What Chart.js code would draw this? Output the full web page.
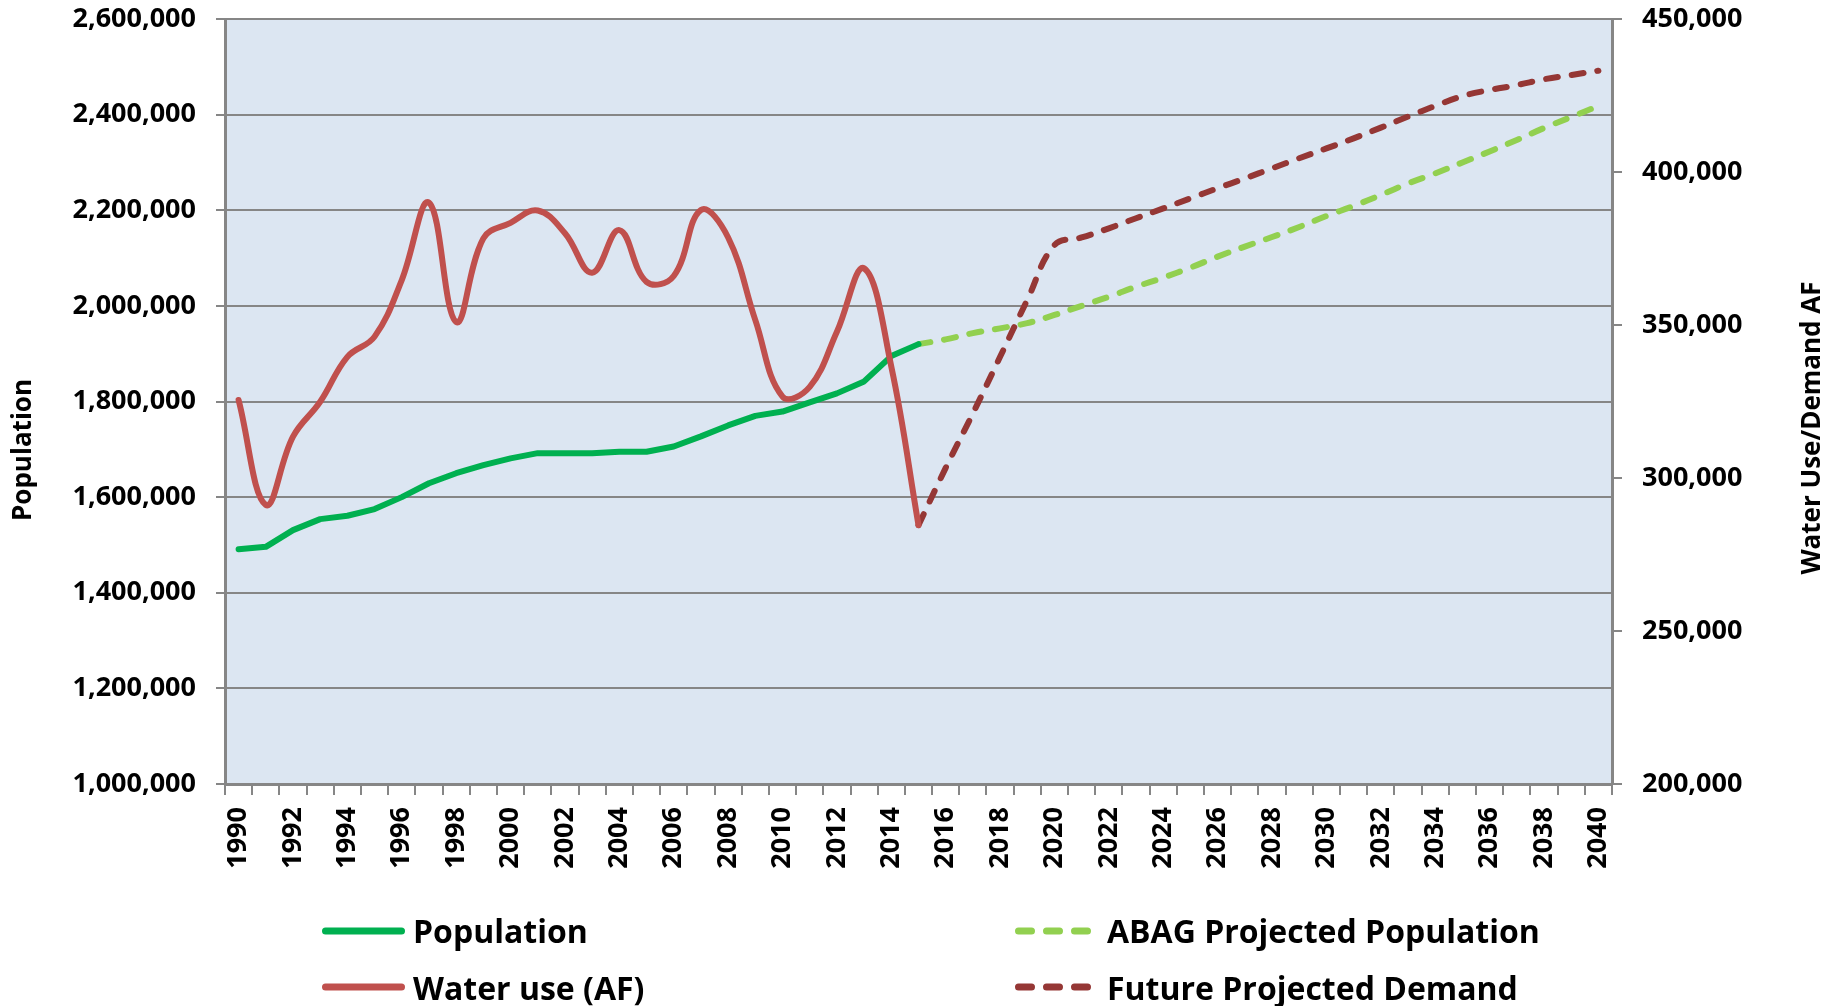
<!DOCTYPE html>
<html>
<head>
<meta charset="utf-8">
<script src="https://cdn.jsdelivr.net/npm/chart.js@4"></script>
<style>
  html, body { margin: 0; padding: 0; background: #fff; }
  #wrap { width: 1831px; height: 1006px; }
</style>
</head>
<body>
<div id="wrap"><canvas id="waterChart" width="1831" height="1006"></canvas></div>
<script>
// Population and water use, historic (1990-2015) and projected (2015-2040)
const years = [1990, 1991, 1992, 1993, 1994, 1995, 1996, 1997, 1998, 1999,
  2000, 2001, 2002, 2003, 2004, 2005, 2006, 2007, 2008, 2009,
  2010, 2011, 2012, 2013, 2014, 2015, 2016, 2017, 2018, 2019,
  2020, 2021, 2022, 2023, 2024, 2025, 2026, 2027, 2028, 2029,
  2030, 2031, 2032, 2033, 2034, 2035, 2036, 2037, 2038, 2039, 2040];

// 1990 - 2015
const population = [1491000, 1496000, 1531000, 1554000, 1561000, 1575000, 1600000, 1629000,
  1650000, 1667000, 1681000, 1692000, 1692000, 1692000, 1695000, 1695000, 1706000, 1727000,
  1750000, 1770000, 1779000, 1798000, 1817000, 1842000, 1895000, 1920000];
const waterUse = [325500, 291200, 313500, 324900, 339600, 346200, 364700, 390000,
  351000, 378300, 383400, 387400, 380000, 367100, 381000, 364100, 366000, 387600,
  378600, 351600, 326600, 329800, 347800, 368500, 336400, 284600];

// 2015 - 2040
const abagPopulation = [1920000, 1930000, 1943000, 1953000, 1964000, 1981000, 2000000, 2019000,
  2040000, 2059000, 2080000, 2103000, 2124000, 2144000, 2165000, 2188000, 2209000, 2232000,
  2256000, 2277000, 2300000, 2323000, 2347000, 2372000, 2395000, 2418000];
const futureDemand = [284600, 303300, 321100, 339600, 358200, 376100, 378600, 381600,
  384900, 388100, 391400, 394700, 397900, 401200, 404500, 407700, 411000, 414500,
  418100, 421600, 424800, 426800, 428400, 430300, 431700, 433100];

const gray = '#868686';
const tickFont = { family: '"Open Sans"', size: 27, weight: 'bold' };

const alignToYears = function (startYear, values) {
    return years.map(function (y) {
        const i = y - startYear;
        return (i >= 0 && i < values.length) ? values[i] : null;
    });
};

// light blue plot area
const plotBackground = {
    id: 'plotBackground',
    beforeDraw(chart) {
        const { ctx, chartArea: a } = chart;
        ctx.save();
        ctx.fillStyle = '#DCE6F2';
        ctx.fillRect(a.left, a.top, a.right - a.left, a.bottom - a.top);
        ctx.restore();
    }
};

// both axis titles read bottom to top
const drawRotated = function (ctx, text, x, y) {
    ctx.save();
    ctx.translate(x, y);
    ctx.rotate(-Math.PI / 2);
    ctx.fillText(text, 0, 0);
    ctx.restore();
};

const axisTitles = {
    id: 'axisTitles',
    afterDraw(chart) {
        const ctx = chart.ctx;
        ctx.save();
        ctx.font = 'bold 26px "Open Sans"';
        ctx.fillStyle = '#000';
        ctx.textAlign = 'center';
        ctx.textBaseline = 'alphabetic';
        drawRotated(ctx, 'Population', 31, 450);
        drawRotated(ctx, 'Water Use/Demand AF', 1820, 428);
        ctx.restore();
    }
};

// 2 x 2 legend under the axis
const legendLayout = [
    { label: 'Population', col: 0, row: 0 },
    { label: 'ABAG Projected Population', col: 1, row: 0 },
    { label: 'Water use (AF)', col: 0, row: 1 },
    { label: 'Future Projected Demand', col: 1, row: 1 }
];

const legendGrid = {
    id: 'legendGrid',
    afterDraw(chart) {
        const ctx = chart.ctx;
        const sampleX = [322, 1015], textX = [413, 1107];
        const lineY = [931, 987], baseY = [943, 1000];
        ctx.save();
        ctx.font = 'bold 32px "Open Sans"';
        ctx.textBaseline = 'alphabetic';
        ctx.textAlign = 'left';
        legendLayout.forEach(function (item) {
            const ds = chart.data.datasets.find(d => d.label === item.label);
            const dashed = !!ds.borderDash;
            const x0 = sampleX[item.col] + 3.5;
            const y = lineY[item.row];
            ctx.strokeStyle = ds.borderColor;
            ctx.lineWidth = 7;
            ctx.lineCap = 'round';
            ctx.setLineDash(dashed ? [13, 15] : []);
            ctx.beginPath();
            ctx.moveTo(x0, y);
            ctx.lineTo(x0 + (dashed ? 70 : 76), y);
            ctx.stroke();
            ctx.setLineDash([]);
            ctx.fillStyle = '#000';
            ctx.fillText(item.label, textX[item.col], baseY[item.row]);
        });
        ctx.restore();
    }
};

// the tick padding would otherwise push the plot top down
const fitYScale = function (width) {
    return function (s) {
        s.width = width;
        s.paddingTop = 0;
        s.paddingBottom = 0;
    };
};

const lineStyle = { pointRadius: 0, borderWidth: 6, borderCapStyle: 'round', borderJoinStyle: 'round', fill: false };

new Chart(document.getElementById('waterChart'), {
    type: 'line',
    data: {
        labels: years,
        datasets: [
            Object.assign({
                label: 'Population',
                data: alignToYears(1990, population),
                yAxisID: 'y',
                borderColor: '#00B050',
                tension: 0,
                order: 2
            }, lineStyle),
            Object.assign({
                label: 'ABAG Projected Population',
                data: alignToYears(2015, abagPopulation),
                yAxisID: 'y',
                borderColor: '#92D050',
                borderDash: [12, 14],
                tension: 0.4,
                order: 2
            }, lineStyle),
            Object.assign({
                label: 'Water use (AF)',
                data: alignToYears(1990, waterUse),
                yAxisID: 'y1',
                borderColor: '#C0504D',
                tension: 0.4,
                order: 1
            }, lineStyle),
            Object.assign({
                label: 'Future Projected Demand',
                data: alignToYears(2015, futureDemand),
                yAxisID: 'y1',
                borderColor: '#953735',
                borderDash: [12, 14],
                tension: 0.4,
                order: 1
            }, lineStyle)
        ]
    },
    options: {
        responsive: false,
        animation: false,
        devicePixelRatio: 1,
        layout: { padding: { top: 19, left: 0, right: 0, bottom: 130 } },
        plugins: {
            legend: { display: false },
            tooltip: { enabled: false }
        },
        scales: {
            x: {
                offset: true,
                grid: { offset: true, drawOnChartArea: false, color: gray, lineWidth: 2, tickLength: 11 },
                border: { color: gray, width: 3 },
                ticks: {
                    autoSkip: false,
                    minRotation: 90,
                    maxRotation: 90,
                    padding: 12,
                    color: '#000',
                    font: tickFont,
                    callback: function (value) {
                        const y = this.getLabelForValue(value);
                        return y % 2 === 0 ? String(y) : '';
                    }
                },
                afterFit: function (s) { s.height = 92; }
            },
            y: {
                position: 'left',
                min: 1000000,
                max: 2600000,
                grid: { color: gray, lineWidth: 2, tickLength: 9 },
                border: { color: gray, width: 3 },
                ticks: {
                    stepSize: 200000,
                    padding: 20,
                    color: '#000',
                    font: tickFont,
                    callback: v => v.toLocaleString('en-US')
                },
                afterFit: fitYScale(225)
            },
            y1: {
                position: 'right',
                min: 200000,
                max: 450000,
                grid: { drawOnChartArea: false, color: gray, lineWidth: 2, tickLength: 10 },
                border: { color: gray, width: 3 },
                ticks: {
                    stepSize: 50000,
                    padding: 20,
                    color: '#000',
                    font: tickFont,
                    callback: v => v.toLocaleString('en-US')
                },
                afterFit: fitYScale(219)
            }
        }
    },
    plugins: [plotBackground, axisTitles, legendGrid]
});
</script>
</body>
</html>
